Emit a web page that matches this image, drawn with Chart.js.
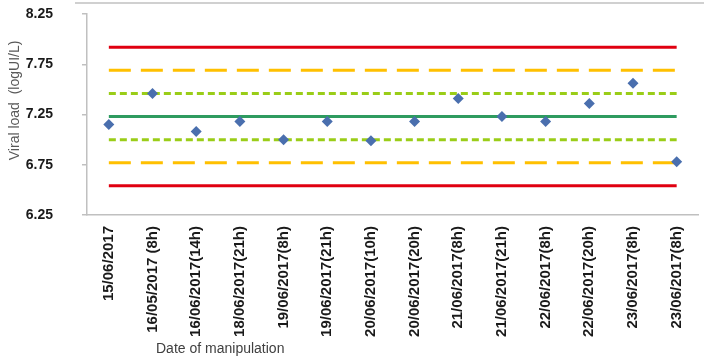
<!DOCTYPE html>
<html>
<head>
<meta charset="utf-8">
<script src="https://cdn.jsdelivr.net/npm/chart.js@4/dist/chart.umd.min.js"></script>
<style>
  html, body { margin: 0; padding: 0; background: #ffffff; }
  #wrap { width: 704px; height: 359px; position: relative; }
</style>
</head>
<body>
<div id="wrap"><canvas id="c" width="704" height="359"></canvas></div>
<script>
// Categories (x axis)
const categories = [
  "15/06/2017",
  "16/05/2017 (8h)",
  "16/06/2017(14h)",
  "18/06/2017(21h)",
  "19/06/2017(8h)",
  "19/06/2017(21h)",
  "20/06/2017(10h)",
  "20/06/2017(20h)",
  "21/06/2017(8h)",
  "21/06/2017(21h)",
  "22/06/2017(8h)",
  "22/06/2017(20h)",
  "23/06/2017(8h)",
  "23/06/2017(8h)"
];
// Measured viral load (logUI/L)
const viralLoad = [7.15, 7.46, 7.08, 7.18, 7.00, 7.18, 6.99, 7.18, 7.41, 7.23, 7.18, 7.36, 7.56, 6.78];
// Control limits
const meanLine = 7.23;
const limit1SD = [7.46, 7.00];
const limit2SD = [7.69, 6.77];
const limit3SD = [7.92, 6.54];
// Y tick values
const yTicks = [6.25, 6.75, 7.25, 7.75, 8.25];
// Axis titles
const xTitle = 'Date of manipulation';
const yTitle = 'Viral load  (logUI/L)';

const firstIdx = 0, lastIdx = categories.length - 1;
function hline(v) { return [{x: firstIdx, y: v}, {x: lastIdx, y: v}]; }

const lineBase = { type: 'line', pointRadius: 0, borderWidth: 3, fill: false, tension: 0 };

const datasets = [
  { type: 'scatter', label: 'Viral load',
    data: viralLoad.map((v, i) => ({x: i, y: v})),
    pointStyle: 'rectRot', pointRadius: 5.5, pointHoverRadius: 5.5,
    backgroundColor: '#4a6fae', borderColor: '#4a6fae', borderWidth: 0, showLine: false, order: 0 },
  Object.assign({}, lineBase, { label: 'mean', data: hline(meanLine), borderColor: '#2e9b5f', order: 1 }),
  Object.assign({}, lineBase, { label: '+1SD', data: hline(limit1SD[0]), borderColor: '#9acd18', borderDash: [7, 4], order: 2 }),
  Object.assign({}, lineBase, { label: '-1SD', data: hline(limit1SD[1]), borderColor: '#9acd18', borderDash: [7, 4], order: 2 }),
  Object.assign({}, lineBase, { label: '+2SD', data: hline(limit2SD[0]), borderColor: '#ffc000', borderDash: [22, 10], order: 3 }),
  Object.assign({}, lineBase, { label: '-2SD', data: hline(limit2SD[1]), borderColor: '#ffc000', borderDash: [22, 10], order: 3 }),
  Object.assign({}, lineBase, { label: '+3SD', data: hline(limit3SD[0]), borderColor: '#e00010', order: 4 }),
  Object.assign({}, lineBase, { label: '-3SD', data: hline(limit3SD[1]), borderColor: '#e00010', order: 4 })
];

const decorPlugin = {
  id: 'decor',
  beforeDraw(chart) {
    const ctx = chart.ctx;
    ctx.save();
    ctx.strokeStyle = '#d0d0d0';
    ctx.lineWidth = 2;
    ctx.beginPath();
    ctx.moveTo(75, 3);
    ctx.lineTo(chart.width, 3);
    ctx.stroke();
    ctx.restore();
  },
  afterDraw(chart) {
    const ctx = chart.ctx;
    const xs = chart.scales.x, ys = chart.scales.y;
    ctx.save();
    ctx.font = '14px "Liberation Sans", Arial, sans-serif';
    ctx.textAlign = 'center';
    ctx.textBaseline = 'middle';
    ctx.fillStyle = '#404040';
    ctx.fillText(xTitle, xs.getPixelForValue(2.55), chart.height - 10);
    ctx.fillStyle = '#595959';
    ctx.translate(ys.left + 13, ys.getPixelForValue(7.39));
    ctx.rotate(-Math.PI / 2);
    ctx.fillText(yTitle, 0, 0);
    ctx.restore();
  }
};

new Chart(document.getElementById('c'), {
  data: { datasets },
  options: {
    responsive: false,
    animation: false,
    layout: { padding: { top: 14, right: 2, bottom: 16, left: 2 } },
    plugins: { legend: { display: false }, tooltip: { enabled: false } },
    scales: {
      x: {
        type: 'linear',
        min: firstIdx - 0.5,
        max: lastIdx + 0.5,
        afterBuildTicks: s => { s.ticks = categories.map((_, i) => ({ value: i })); },
        afterFit: s => { s.height = 128; s.paddingLeft = 0; s.paddingRight = 0; },
        ticks: {
          autoSkip: false,
          minRotation: 90, maxRotation: 90,
          padding: 11,
          color: '#1a1a1a',
          font: { family: '"Liberation Sans", Arial, sans-serif', size: 15, weight: 'bold' },
          callback: v => categories[v]
        },
        grid: { drawOnChartArea: false, drawTicks: false },
        border: { display: true, color: '#c0c0c0', width: 1.5 }
      },
      y: {
        type: 'linear',
        min: yTicks[0],
        max: yTicks[yTicks.length - 1],
        afterBuildTicks: s => { s.ticks = yTicks.map(v => ({ value: v })); },
        afterFit: s => { s.width = 85; s.paddingTop = 7; s.paddingBottom = 7; },
        ticks: {
          padding: 29,
          color: '#1a1a1a',
          font: { family: '"Liberation Sans", Arial, sans-serif', size: 14, weight: 'bold' },
          callback: v => Number(v).toFixed(2)
        },
        grid: { drawOnChartArea: false, drawTicks: true, tickLength: 5, color: '#c0c0c0', lineWidth: 1.5 },
        border: { display: true, color: '#c0c0c0', width: 1.5 },
        title: { display: false }
      }
    }
  },
  plugins: [decorPlugin]
});
</script>
</body>
</html>
